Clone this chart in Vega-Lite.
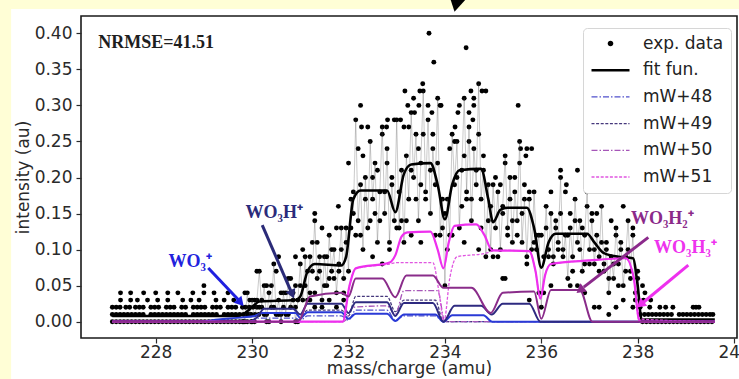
{
 "$schema": "https://vega.github.io/schema/vega-lite/v6.json",
 "width": 656, "height": 322,
 "autosize": {"type": "none"},
 "padding": {"left": 81, "top": 16, "right": 2, "bottom": 41},
 "background": "#fffed6",
 "config": {
  "view": {"stroke": null},
  "font": "DejaVu Sans",
  "axis": {"grid": false, "domain": false, "labelFont": "DejaVu Sans", "labelFontSize": 17, "labelColor": "#2a2a2a", "titleFont": "DejaVu Sans", "titleFontSize": 17, "titleFontWeight": "normal", "titleColor": "#2a2a2a", "tickColor": "#2a2a2a", "tickSize": 5, "tickWidth": 1.2}
 },
 "datasets": {
  "legend": [{"s": "exp. data"}, {"s": "fit fun."}, {"s": "mW+48"}, {"s": "mW+49"}, {"s": "mW+50"}, {"s": "mW+51"}],
  "exp": [
   {"m":227.1,"i":0},{"m":227.18,"i":0},{"m":227.26,"i":0},{"m":227.34,"i":0},{"m":227.42,"i":0},{"m":227.5,"i":0},{"m":227.58,"i":0},{"m":227.66,"i":0},{"m":227.74,"i":0},{"m":227.82,"i":0},{"m":227.9,"i":0},{"m":227.98,"i":0},{"m":228.06,"i":0},{"m":228.14,"i":0},{"m":228.22,"i":0},{"m":228.3,"i":0},{"m":228.38,"i":0},{"m":228.46,"i":0},{"m":228.54,"i":0},{"m":228.62,"i":0},{"m":228.7,"i":0},{"m":228.78,"i":0},{"m":228.86,"i":0},{"m":228.94,"i":0},{"m":229.02,"i":0},{"m":229.1,"i":0},{"m":229.18,"i":0},{"m":229.26,"i":0},{"m":229.34,"i":0},{"m":229.42,"i":0},{"m":229.5,"i":0},{"m":229.58,"i":0},{"m":229.66,"i":0},{"m":229.74,"i":0},{"m":229.82,"i":0},{"m":229.9,"i":0},{"m":229.98,"i":0},
   {"m":227.1,"i":0.01},{"m":227.18,"i":0.01},{"m":227.26,"i":0.01},{"m":227.34,"i":0.01},{"m":227.42,"i":0.01},{"m":227.5,"i":0.01},{"m":227.58,"i":0.01},{"m":227.66,"i":0.01},{"m":227.74,"i":0.01},{"m":227.9,"i":0.01},{"m":227.98,"i":0.01},{"m":228.06,"i":0.01},{"m":228.14,"i":0.01},{"m":228.22,"i":0.01},{"m":228.3,"i":0.01},{"m":228.38,"i":0.01},{"m":228.46,"i":0.01},{"m":228.54,"i":0.01},{"m":228.62,"i":0.01},{"m":228.78,"i":0.01},{"m":228.86,"i":0.01},{"m":228.94,"i":0.01},{"m":229.02,"i":0.01},{"m":229.1,"i":0.01},{"m":229.18,"i":0.01},{"m":229.26,"i":0.01},{"m":229.42,"i":0.01},{"m":229.5,"i":0.01},{"m":229.58,"i":0.01},{"m":229.66,"i":0.01},{"m":229.74,"i":0.01},{"m":229.82,"i":0.01},{"m":229.9,"i":0.01},{"m":229.98,"i":0.01},{"m":230.06,"i":0.01},{"m":230.14,"i":0.01},
   {"m":227.1,"i":0.02},{"m":227.18,"i":0.02},{"m":227.26,"i":0.02},{"m":227.38,"i":0.02},{"m":227.46,"i":0.02},{"m":227.58,"i":0.02},{"m":227.66,"i":0.02},{"m":227.74,"i":0.02},{"m":227.9,"i":0.02},{"m":227.98,"i":0.02},{"m":228.06,"i":0.02},{"m":228.22,"i":0.02},{"m":228.3,"i":0.02},{"m":228.38,"i":0.02},{"m":228.54,"i":0.02},{"m":228.62,"i":0.02},{"m":228.78,"i":0.02},{"m":228.86,"i":0.02},{"m":228.94,"i":0.02},{"m":229.02,"i":0.02},{"m":229.18,"i":0.02},{"m":229.26,"i":0.02},{"m":229.34,"i":0.02},{"m":229.5,"i":0.02},{"m":229.58,"i":0.02},{"m":229.66,"i":0.02},{"m":229.86,"i":0.02},{"m":229.94,"i":0.02},{"m":230.02,"i":0.02},{"m":230.1,"i":0.02},
   {"m":227.27,"i":0.03},{"m":227.48,"i":0.03},{"m":227.62,"i":0.03},{"m":227.83,"i":0.03},{"m":228.04,"i":0.03},{"m":228.25,"i":0.03},{"m":228.56,"i":0.03},{"m":228.73,"i":0.03},{"m":228.9,"i":0.03},{"m":229.25,"i":0.03},{"m":229.42,"i":0.03},{"m":229.62,"i":0.03},
   {"m":227.27,"i":0.04},{"m":227.48,"i":0.04},{"m":227.75,"i":0.04},{"m":228.0,"i":0.04},{"m":228.25,"i":0.04},{"m":228.46,"i":0.04},{"m":228.77,"i":0.04},{"m":229.0,"i":0.04},{"m":229.21,"i":0.04},{"m":229.5,"i":0.04},{"m":229.0,"i":0.05},
   {"m":229.8,"i":0.02,"k":1},{"m":229.8,"i":0},{"m":229.85,"i":0,"k":1},{"m":229.85,"i":0.04},{"m":229.9,"i":0.04,"k":1},{"m":229.9,"i":0.01},{"m":229.95,"i":0.01,"k":1},{"m":229.95,"i":0.03},{"m":230.0,"i":0.03,"k":1},{"m":230.0,"i":0},{"m":230.05,"i":0,"k":1},{"m":230.05,"i":0.03},{"m":230.1,"i":0.03,"k":1},{"m":230.1,"i":0.07},{"m":230.15,"i":0.07,"k":1},{"m":230.15,"i":0.02},{"m":230.2,"i":0.02,"k":1},{"m":230.2,"i":0.03},{"m":230.25,"i":0.05,"k":1},{"m":230.25,"i":0.01},{"m":230.3,"i":0,"k":1},{"m":230.3,"i":0.05},{"m":230.35,"i":0.04,"k":1},{"m":230.35,"i":0},{"m":230.4,"i":0.02,"k":1},{"m":230.4,"i":0.05},{"m":230.45,"i":0.08,"k":1},{"m":230.45,"i":0.02},{"m":230.5,"i":0.01,"k":1},{"m":230.5,"i":0.07},{"m":230.55,"i":0.03,"k":1},{"m":230.55,"i":0.01},{"m":230.6,"i":0,"k":1},{"m":230.6,"i":0.04},{"m":230.65,"i":0.04,"k":1},{"m":230.65,"i":0.02},{"m":230.7,"i":0.01,"k":1},{"m":230.7,"i":0.04},{"m":230.75,"i":0.06,"k":1},{"m":230.75,"i":0.01},{"m":230.8,"i":0.02,"k":1},{"m":230.8,"i":0.06},{"m":230.85,"i":0.04,"k":1},{"m":230.85,"i":0.03},{"m":230.9,"i":0,"k":1},{"m":230.9,"i":0.05},{"m":230.95,"i":0.03,"k":1},{"m":230.95,"i":0},
   {"m":231.0,"i":0.08,"k":1},{"m":231.0,"i":0.05},{"m":231.05,"i":0.03,"k":1},{"m":231.05,"i":0.1},{"m":231.1,"i":0.09,"k":1},{"m":231.1,"i":0.05},{"m":231.15,"i":0.03,"k":1},{"m":231.15,"i":0.07},{"m":231.2,"i":0.09,"k":1},{"m":231.2,"i":0.04},{"m":231.25,"i":0.07,"k":1},{"m":231.25,"i":0.11},{"m":231.3,"i":0.14,"k":1},{"m":231.3,"i":0.04},{"m":231.35,"i":0.06,"k":1},{"m":231.35,"i":0.11},{"m":231.4,"i":0.09,"k":1},{"m":231.4,"i":0.07},{"m":231.45,"i":0.03,"k":1},{"m":231.45,"i":0.13},{"m":231.5,"i":0.09,"k":1},{"m":231.5,"i":0.05},{"m":231.55,"i":0.05,"k":1},{"m":231.55,"i":0.09},{"m":231.6,"i":0.12,"k":1},{"m":231.6,"i":0.06},{"m":231.65,"i":0.07,"k":1},{"m":231.65,"i":0.1},{"m":231.7,"i":0.1,"k":1},{"m":231.7,"i":0.06},{"m":231.75,"i":0.04,"k":1},{"m":231.75,"i":0.13},{"m":231.8,"i":0.08,"k":1},{"m":231.8,"i":0.07},{"m":231.85,"i":0.13,"k":1},{"m":231.85,"i":0.1},{"m":231.9,"i":0.06,"k":1},{"m":231.9,"i":0.04},{"m":231.95,"i":0.13,"k":1},{"m":231.95,"i":0.11},
   {"m":232.0,"i":0.07,"k":1},{"m":232.0,"i":0.22},{"m":232.05,"i":0.17,"k":1},{"m":232.05,"i":0.13},{"m":232.1,"i":0.15,"k":1},{"m":232.1,"i":0.18},{"m":232.15,"i":0.28,"k":1},{"m":232.15,"i":0.12},{"m":232.2,"i":0.14,"k":1},{"m":232.2,"i":0.24},{"m":232.25,"i":0.19,"k":1},{"m":232.25,"i":0.12},{"m":232.3,"i":0.1,"k":1},{"m":232.3,"i":0.23},{"m":232.35,"i":0.2,"k":1},{"m":232.35,"i":0.17},{"m":232.4,"i":0.13,"k":1},{"m":232.4,"i":0.27},{"m":232.45,"i":0.25,"k":1},{"m":232.45,"i":0.14},{"m":232.5,"i":0.17,"k":1},{"m":232.5,"i":0.2},{"m":232.55,"i":0.22,"k":1},{"m":232.55,"i":0.15},{"m":232.6,"i":0.11,"k":1},{"m":232.6,"i":0.21},{"m":232.65,"i":0.18,"k":1},{"m":232.65,"i":0.14},{"m":232.7,"i":0.27,"k":1},{"m":232.7,"i":0.26},{"m":232.75,"i":0.15,"k":1},{"m":232.75,"i":0.18},{"m":232.8,"i":0.24,"k":1},{"m":232.8,"i":0.22},{"m":232.85,"i":0.11,"k":1},{"m":232.85,"i":0.1},{"m":232.9,"i":0.19,"k":1},{"m":232.9,"i":0.2},{"m":232.95,"i":0.14,"k":1},{"m":232.95,"i":0.28},
   {"m":233.0,"i":0.28,"k":1},{"m":233.0,"i":0.13},{"m":233.05,"i":0.13,"k":1},{"m":233.05,"i":0.18},{"m":233.1,"i":0.21,"k":1},{"m":233.1,"i":0.14},{"m":233.15,"i":0.11,"k":1},{"m":233.15,"i":0.27},{"m":233.2,"i":0.23,"k":1},{"m":233.2,"i":0.14},{"m":233.25,"i":0.17,"k":1},{"m":233.25,"i":0.27},{"m":233.3,"i":0.29,"k":1},{"m":233.3,"i":0.21},{"m":233.35,"i":0.2,"k":1},{"m":233.35,"i":0.31},{"m":233.4,"i":0.26,"k":1},{"m":233.4,"i":0.17},{"m":233.45,"i":0.14,"k":1},{"m":233.45,"i":0.24},{"m":233.5,"i":0.22,"k":1},{"m":233.5,"i":0.19},{"m":233.55,"i":0.32,"k":1},{"m":233.55,"i":0.26},{"m":233.6,"i":0.18,"k":1},{"m":233.6,"i":0.17},{"m":233.65,"i":0.28,"k":1},{"m":233.65,"i":0.3},{"m":233.7,"i":0.15,"k":1},{"m":233.7,"i":0.21},{"m":233.75,"i":0.24,"k":1},{"m":233.75,"i":0.26},{"m":233.8,"i":0.19,"k":1},{"m":233.8,"i":0.12},{"m":233.85,"i":0.31,"k":1},{"m":233.85,"i":0.22},{"m":233.9,"i":0.12,"k":1},{"m":233.9,"i":0.3},{"m":233.95,"i":0.17,"k":1},{"m":233.95,"i":0.13},
   {"m":234.0,"i":0.05,"k":1},{"m":234.0,"i":0.15},{"m":234.05,"i":0.17,"k":1},{"m":234.05,"i":0.1},{"m":234.1,"i":0.12,"k":1},{"m":234.1,"i":0.24},{"m":234.15,"i":0.26,"k":1},{"m":234.15,"i":0.12},{"m":234.2,"i":0.19,"k":1},{"m":234.2,"i":0.25},{"m":234.25,"i":0.25,"k":1},{"m":234.25,"i":0.2},{"m":234.3,"i":0.13,"k":1},{"m":234.3,"i":0.3},{"m":234.35,"i":0.21,"k":1},{"m":234.35,"i":0.16},{"m":234.4,"i":0.31,"k":1},{"m":234.4,"i":0.23},{"m":234.45,"i":0.18,"k":1},{"m":234.45,"i":0.17},{"m":234.5,"i":0.27,"k":1},{"m":234.5,"i":0.25},{"m":234.55,"i":0.14,"k":1},{"m":234.55,"i":0.17},{"m":234.6,"i":0.24,"k":1},{"m":234.6,"i":0.3},{"m":234.65,"i":0.19,"k":1},{"m":234.65,"i":0.21},{"m":234.7,"i":0.33,"k":1},{"m":234.7,"i":0.26},{"m":234.75,"i":0.17,"k":1},{"m":234.75,"i":0.13},{"m":234.8,"i":0.21,"k":1},{"m":234.8,"i":0.23},{"m":234.85,"i":0.09,"k":1},{"m":234.85,"i":0.32},{"m":234.9,"i":0.19,"k":1},{"m":234.9,"i":0.14},{"m":234.95,"i":0.1,"k":1},{"m":234.95,"i":0.16},
   {"m":235.0,"i":0.19,"k":1},{"m":235.0,"i":0.09},{"m":235.05,"i":0.13,"k":1},{"m":235.05,"i":0.2},{"m":235.1,"i":0.18,"k":1},{"m":235.1,"i":0.09},{"m":235.15,"i":0.1,"k":1},{"m":235.15,"i":0.19},{"m":235.2,"i":0.16,"k":1},{"m":235.2,"i":0.15},{"m":235.25,"i":0.23,"k":1},{"m":235.25,"i":0.22},{"m":235.3,"i":0.13,"k":1},{"m":235.3,"i":0.12},{"m":235.35,"i":0.2,"k":1},{"m":235.35,"i":0.17},{"m":235.4,"i":0.11,"k":1},{"m":235.4,"i":0.14},{"m":235.45,"i":0.18,"k":1},{"m":235.45,"i":0.2},{"m":235.5,"i":0.14,"k":1},{"m":235.5,"i":0.12},{"m":235.55,"i":0.25,"k":1},{"m":235.55,"i":0.22},{"m":235.6,"i":0.11,"k":1},{"m":235.6,"i":0.15},{"m":235.65,"i":0.17,"k":1},{"m":235.65,"i":0.19},{"m":235.7,"i":0.09,"k":1},{"m":235.7,"i":0.08},{"m":235.75,"i":0.17,"k":1},{"m":235.75,"i":0.18},{"m":235.8,"i":0.1,"k":1},{"m":235.8,"i":0.24},{"m":235.85,"i":0.18,"k":1},{"m":235.85,"i":0.11},{"m":235.9,"i":0.1,"k":1},{"m":235.9,"i":0.12},{"m":235.95,"i":0.12,"k":1},{"m":235.95,"i":0.04},
   {"m":236.0,"i":0.02,"k":1},{"m":236.0,"i":0.12},{"m":236.05,"i":0.09,"k":1},{"m":236.05,"i":0.04},{"m":236.1,"i":0.16,"k":1},{"m":236.1,"i":0.13},{"m":236.15,"i":0.09,"k":1},{"m":236.15,"i":0.1},{"m":236.2,"i":0.15,"k":1},{"m":236.2,"i":0.18},{"m":236.25,"i":0.08,"k":1},{"m":236.25,"i":0.09},{"m":236.3,"i":0.14,"k":1},{"m":236.3,"i":0.13},{"m":236.35,"i":0.11,"k":1},{"m":236.35,"i":0.1},{"m":236.4,"i":0.2,"k":1},{"m":236.4,"i":0.15},{"m":236.45,"i":0.09,"k":1},{"m":236.45,"i":0.1},{"m":236.5,"i":0.12,"k":1},{"m":236.5,"i":0.18},{"m":236.55,"i":0.06,"k":1},{"m":236.55,"i":0.12},{"m":236.6,"i":0.13,"k":1},{"m":236.6,"i":0.15},{"m":236.65,"i":0.09,"k":1},{"m":236.65,"i":0.07},{"m":236.7,"i":0.17,"k":1},{"m":236.7,"i":0.14},{"m":236.75,"i":0.11,"k":1},{"m":236.75,"i":0.21},{"m":236.8,"i":0.14,"k":1},{"m":236.8,"i":0.1},{"m":236.85,"i":0.07,"k":1},{"m":236.85,"i":0.13},{"m":236.9,"i":0.12,"k":1},{"m":236.9,"i":0.08},{"m":236.95,"i":0.18,"k":1},{"m":236.95,"i":0.16},
   {"m":237.0,"i":0.1,"k":1},{"m":237.0,"i":0.08},{"m":237.05,"i":0.14,"k":1},{"m":237.05,"i":0.15},{"m":237.1,"i":0.08,"k":1},{"m":237.1,"i":0.1},{"m":237.15,"i":0.12,"k":1},{"m":237.15,"i":0.15},{"m":237.2,"i":0.09,"k":1},{"m":237.2,"i":0.07},{"m":237.25,"i":0.16,"k":1},{"m":237.25,"i":0.11},{"m":237.3,"i":0.07,"k":1},{"m":237.3,"i":0.08},{"m":237.35,"i":0.1,"k":1},{"m":237.35,"i":0.11},{"m":237.4,"i":0.04,"k":1},{"m":237.4,"i":0.06},{"m":237.45,"i":0.09,"k":1},{"m":237.45,"i":0.14},{"m":237.5,"i":0.06,"k":1},{"m":237.5,"i":0.08},{"m":237.55,"i":0.13,"k":1},{"m":237.55,"i":0.12},{"m":237.6,"i":0.08,"k":1},{"m":237.6,"i":0.05},{"m":237.65,"i":0.11,"k":1},{"m":237.65,"i":0.1},{"m":237.7,"i":0.05,"k":1},{"m":237.7,"i":0.16},{"m":237.75,"i":0.09,"k":1},{"m":237.75,"i":0.07},{"m":237.8,"i":0.14,"k":1},{"m":237.8,"i":0.1},{"m":237.85,"i":0.07,"k":1},{"m":237.85,"i":0.06},{"m":237.9,"i":0.12,"k":1},{"m":237.9,"i":0.13},{"m":237.95,"i":0.03,"k":1},{"m":237.95,"i":0.04},{"m":238.0,"i":0.06,"k":1},{"m":238.0,"i":0.07},{"m":238.05,"i":0.01,"k":1},{"m":238.05,"i":0.02},
   {"m":233.67,"i":0.4},{"m":234.44,"i":0.38},{"m":233.77,"i":0.36},{"m":233.54,"i":0.33},{"m":233.17,"i":0.32},{"m":233.48,"i":0.32},{"m":234.54,"i":0.32},{"m":234.77,"i":0.32},{"m":232.25,"i":0.3},{"m":234.6,"i":0.31},{"m":233.23,"i":0.3},{"m":233.46,"i":0.3},{"m":233.92,"i":0.3},{"m":232.81,"i":0.28},{"m":234.27,"i":0.29},{"m":234.5,"i":0.29},{"m":232.27,"i":0.27},{"m":232.79,"i":0.27},{"m":233.08,"i":0.28},{"m":234.21,"i":0.27},{"m":235.52,"i":0.3},{"m":235.57,"i":0.24},{"m":235.7,"i":0.24},{"m":235.68,"i":0.23},{"m":236.4,"i":0.21},{"m":236.52,"i":0.19},{"m":233.37,"i":0.29},{"m":233.73,"i":0.29},{"m":234.58,"i":0.28},{"m":230.55,"i":0.09},{"m":230.9,"i":0.09},{"m":231.3,"i":0.15},{"m":231.79,"i":0.16},
   {"m":231.2,"i":0.03},{"m":231.3,"i":0.02},{"m":231.45,"i":0.02},{"m":231.6,"i":0.03},{"m":231.75,"i":0.02},{"m":231.9,"i":0.03},{"m":230.3,"i":0.01},{"m":230.6,"i":0.01},{"m":230.9,"i":0.02},{"m":235.2,"i":0.06},{"m":235.25,"i":0.06},{"m":235.75,"i":0.03},{"m":236.2,"i":0.05},{"m":236.6,"i":0.05},{"m":236.75,"i":0.05},{"m":236.9,"i":0.04},{"m":237.1,"i":0.02},{"m":237.2,"i":0.02},{"m":237.4,"i":0.01},{"m":237.55,"i":0.02},{"m":237.7,"i":0.03},{"m":237.9,"i":0.02},{"m":238.1,"i":0.05},{"m":238.15,"i":0.04},{"m":232.5,"i":0.09},{"m":232.7,"i":0.08},{"m":233.5,"i":0.11},{"m":234.4,"i":0.11},{"m":233.3,"i":0.12},{"m":234.7,"i":0.1},
   {"m":238.1,"i":0},{"m":238.18,"i":0},{"m":238.26,"i":0},{"m":238.34,"i":0},{"m":238.42,"i":0},{"m":238.5,"i":0},{"m":238.58,"i":0},{"m":238.66,"i":0},{"m":238.74,"i":0},{"m":238.82,"i":0},{"m":238.9,"i":0},{"m":238.98,"i":0},{"m":239.06,"i":0},{"m":239.14,"i":0},{"m":239.22,"i":0},{"m":239.3,"i":0},{"m":239.38,"i":0},{"m":239.46,"i":0},{"m":239.54,"i":0},
   {"m":238.14,"i":0.01},{"m":238.22,"i":0.01},{"m":238.3,"i":0.01},{"m":238.38,"i":0.01},{"m":238.46,"i":0.01},{"m":238.54,"i":0.01},{"m":238.62,"i":0.01},{"m":238.7,"i":0.01},{"m":238.86,"i":0.01},{"m":238.94,"i":0.01},{"m":239.02,"i":0.01},{"m":239.1,"i":0.01},{"m":239.18,"i":0.01},{"m":239.26,"i":0.01},{"m":239.34,"i":0.01},{"m":239.42,"i":0.01},{"m":239.5,"i":0.01},{"m":239.56,"i":0.01},
   {"m":238.25,"i":0.02},{"m":238.46,"i":0.02},{"m":238.58,"i":0.02},{"m":238.73,"i":0.02},{"m":239.15,"i":0.02},{"m":239.21,"i":0.02},{"m":239.27,"i":0.02},{"m":238.27,"i":0.03},{"m":238.12,"i":0.03}
  ],
  "curves": [
   {"s":"fit fun.","m":227.1,"i":0.008},{"s":"fit fun.","m":229.7,"i":0.008},{"s":"fit fun.","m":229.85,"i":0.012},{"s":"fit fun.","m":230.0,"i":0.02},{"s":"fit fun.","m":230.15,"i":0.028},{"s":"fit fun.","m":230.9,"i":0.03},{"s":"fit fun.","m":231.0,"i":0.035},{"s":"fit fun.","m":231.15,"i":0.07},{"s":"fit fun.","m":231.3,"i":0.08},{"s":"fit fun.","m":231.85,"i":0.078},{"s":"fit fun.","m":231.95,"i":0.09},{"s":"fit fun.","m":232.1,"i":0.17},{"s":"fit fun.","m":232.25,"i":0.182},{"s":"fit fun.","m":232.8,"i":0.182},{"s":"fit fun.","m":232.97,"i":0.152},{"s":"fit fun.","m":233.15,"i":0.205},{"s":"fit fun.","m":233.3,"i":0.218},{"s":"fit fun.","m":233.7,"i":0.22},{"s":"fit fun.","m":233.85,"i":0.19},{"s":"fit fun.","m":234.0,"i":0.142},{"s":"fit fun.","m":234.15,"i":0.19},{"s":"fit fun.","m":234.3,"i":0.21},{"s":"fit fun.","m":234.75,"i":0.212},{"s":"fit fun.","m":234.9,"i":0.17},{"s":"fit fun.","m":235.0,"i":0.138},{"s":"fit fun.","m":235.15,"i":0.155},{"s":"fit fun.","m":235.3,"i":0.158},{"s":"fit fun.","m":235.7,"i":0.158},{"s":"fit fun.","m":235.85,"i":0.13},{"s":"fit fun.","m":236.0,"i":0.075},{"s":"fit fun.","m":236.15,"i":0.11},{"s":"fit fun.","m":236.3,"i":0.122},{"s":"fit fun.","m":236.95,"i":0.122},{"s":"fit fun.","m":237.1,"i":0.11},{"s":"fit fun.","m":237.3,"i":0.095},{"s":"fit fun.","m":237.6,"i":0.09},{"s":"fit fun.","m":237.9,"i":0.088},{"s":"fit fun.","m":238.0,"i":0.05},{"s":"fit fun.","m":238.08,"i":0.003},{"s":"fit fun.","m":239.6,"i":0.003},
   {"s":"c48","m":227.1,"i":0},{"s":"c48","m":228.9,"i":0},{"s":"c48","m":229.3,"i":0.003},{"s":"c48","m":229.8,"i":0.006},{"s":"c48","m":230.05,"i":0.008},{"s":"c48","m":230.2,"i":0.012},{"s":"c48","m":230.9,"i":0.012},{"s":"c48","m":231.0,"i":0.005},{"s":"c48","m":231.15,"i":0.013},{"s":"c48","m":231.85,"i":0.013},{"s":"c48","m":232.0,"i":0.004},{"s":"c48","m":232.15,"i":0.011},{"s":"c48","m":232.8,"i":0.011},{"s":"c48","m":232.97,"i":0.001},{"s":"c48","m":233.15,"i":0.01},{"s":"c48","m":233.8,"i":0.01},{"s":"c48","m":233.97,"i":0},{"s":"c48","m":234.15,"i":0.009},{"s":"c48","m":234.8,"i":0.009},{"s":"c48","m":234.98,"i":0},{"s":"c48","m":239.6,"i":0},
   {"s":"c49","m":227.1,"i":0},{"s":"c49","m":229.95,"i":0},{"s":"c49","m":230.1,"i":0.006},{"s":"c49","m":230.25,"i":0.018},{"s":"c49","m":230.85,"i":0.018},{"s":"c49","m":231.0,"i":0.01},{"s":"c49","m":231.15,"i":0.025},{"s":"c49","m":231.85,"i":0.025},{"s":"c49","m":232.0,"i":0.012},{"s":"c49","m":232.15,"i":0.027},{"s":"c49","m":232.8,"i":0.027},{"s":"c49","m":232.97,"i":0.008},{"s":"c49","m":233.15,"i":0.026},{"s":"c49","m":233.75,"i":0.026},{"s":"c49","m":233.97,"i":0},{"s":"c49","m":234.2,"i":0.022},{"s":"c49","m":234.75,"i":0.022},{"s":"c49","m":234.97,"i":0.01},{"s":"c49","m":235.2,"i":0.025},{"s":"c49","m":235.75,"i":0.025},{"s":"c49","m":235.98,"i":0},{"s":"c49","m":239.6,"i":0},
   {"s":"c50","m":227.1,"i":0},{"s":"c50","m":230.9,"i":0},{"s":"c50","m":231.0,"i":0.004},{"s":"c50","m":231.2,"i":0.035},{"s":"c50","m":231.85,"i":0.04},{"s":"c50","m":232.0,"i":0.035},{"s":"c50","m":232.15,"i":0.06},{"s":"c50","m":232.7,"i":0.06},{"s":"c50","m":232.97,"i":0.034},{"s":"c50","m":233.2,"i":0.064},{"s":"c50","m":233.75,"i":0.064},{"s":"c50","m":233.97,"i":0.047},{"s":"c50","m":234.55,"i":0.047},{"s":"c50","m":234.95,"i":0.012},{"s":"c50","m":235.2,"i":0.04},{"s":"c50","m":235.85,"i":0.042},{"s":"c50","m":236.0,"i":0.004},{"s":"c50","m":236.2,"i":0.044},{"s":"c50","m":236.8,"i":0.044},{"s":"c50","m":237.06,"i":0},{"s":"c50","m":239.6,"i":0},
   {"s":"c51","m":227.1,"i":0},{"s":"c51","m":231.88,"i":0},{"s":"c51","m":232.02,"i":0.05},{"s":"c51","m":232.15,"i":0.074},{"s":"c51","m":232.85,"i":0.082},{"s":"c51","m":232.97,"i":0.092},{"s":"c51","m":233.1,"i":0.118},{"s":"c51","m":233.22,"i":0.124},{"s":"c51","m":233.7,"i":0.125},{"s":"c51","m":233.85,"i":0.1},{"s":"c51","m":233.97,"i":0.074},{"s":"c51","m":234.08,"i":0.11},{"s":"c51","m":234.2,"i":0.133},{"s":"c51","m":234.65,"i":0.135},{"s":"c51","m":234.82,"i":0.12},{"s":"c51","m":234.98,"i":0.099},{"s":"c51","m":235.75,"i":0.098},{"s":"c51","m":235.88,"i":0.07},{"s":"c51","m":235.98,"i":0.032},{"s":"c51","m":236.08,"i":0.065},{"s":"c51","m":236.2,"i":0.08},{"s":"c51","m":237.0,"i":0.085},{"s":"c51","m":237.75,"i":0.088},{"s":"c51","m":237.92,"i":0.06},{"s":"c51","m":238.02,"i":0.004},{"s":"c51","m":238.06,"i":0},{"s":"c51","m":239.6,"i":0},
   {"s":"mW+48","m":227.1,"i":0},{"s":"mW+48","m":229.95,"i":0},{"s":"mW+48","m":230.1,"i":0.005},{"s":"mW+48","m":230.9,"i":0.005},{"s":"mW+48","m":231.0,"i":0.002},{"s":"mW+48","m":231.15,"i":0.008},{"s":"mW+48","m":231.85,"i":0.008},{"s":"mW+48","m":232.0,"i":0.002},{"s":"mW+48","m":232.15,"i":0.016},{"s":"mW+48","m":232.8,"i":0.016},{"s":"mW+48","m":232.97,"i":0.002},{"s":"mW+48","m":233.15,"i":0.008},{"s":"mW+48","m":233.8,"i":0.008},{"s":"mW+48","m":233.97,"i":0},{"s":"mW+48","m":239.6,"i":0},
   {"s":"mW+49","m":227.1,"i":0},{"s":"mW+49","m":230.95,"i":0},{"s":"mW+49","m":231.15,"i":0.016},{"s":"mW+49","m":231.85,"i":0.016},{"s":"mW+49","m":232.0,"i":0.008},{"s":"mW+49","m":232.15,"i":0.035},{"s":"mW+49","m":232.8,"i":0.035},{"s":"mW+49","m":232.97,"i":0.014},{"s":"mW+49","m":233.15,"i":0.03},{"s":"mW+49","m":233.8,"i":0.03},{"s":"mW+49","m":233.97,"i":0},{"s":"mW+49","m":239.6,"i":0},
   {"s":"mW+50","m":227.1,"i":0},{"s":"mW+50","m":231.9,"i":0},{"s":"mW+50","m":232.1,"i":0.02},{"s":"mW+50","m":232.8,"i":0.022},{"s":"mW+50","m":232.97,"i":0.01},{"s":"mW+50","m":233.15,"i":0.043},{"s":"mW+50","m":233.85,"i":0.043},{"s":"mW+50","m":234.0,"i":0},{"s":"mW+50","m":239.6,"i":0},
   {"s":"mW+51","m":227.1,"i":0},{"s":"mW+51","m":231.88,"i":0},{"s":"mW+51","m":232.02,"i":0.05},{"s":"mW+51","m":232.15,"i":0.074},{"s":"mW+51","m":232.85,"i":0.08},{"s":"mW+51","m":233.0,"i":0.082},{"s":"mW+51","m":233.75,"i":0.082},{"s":"mW+51","m":233.88,"i":0.04},{"s":"mW+51","m":233.98,"i":0},{"s":"mW+51","m":234.1,"i":0.06},{"s":"mW+51","m":234.25,"i":0.09},{"s":"mW+51","m":234.85,"i":0.095},{"s":"mW+51","m":235.05,"i":0.099},{"s":"mW+51","m":235.75,"i":0.098},{"s":"mW+51","m":235.88,"i":0.07},{"s":"mW+51","m":235.98,"i":0.032},{"s":"mW+51","m":236.08,"i":0.065},{"s":"mW+51","m":236.2,"i":0.08},{"s":"mW+51","m":237.0,"i":0.085},{"s":"mW+51","m":237.75,"i":0.088},{"s":"mW+51","m":237.92,"i":0.06},{"s":"mW+51","m":238.02,"i":0.004},{"s":"mW+51","m":239.6,"i":0}
  ]
 },
 "layer": [
  {"data": {"values": [{}]}, "mark": {"type": "rect", "color": "#ffffff", "opacity": 1},
   "encoding": {"x": {"datum": 225.0, "type": "quantitative", "scale": {"domain": [226.45, 240.06], "nice": false, "zero": false}}, "x2": {"datum": 240.6}, "y": {"datum": -0.1, "type": "quantitative", "scale": {"domain": [-0.0226, 0.424], "nice": false, "zero": false}}, "y2": {"datum": 0.4337}}},
  {"data": {"values": [{}]}, "mark": {"type": "point", "shape": "triangle-down", "filled": true, "color": "#000000", "size": 260, "angle": 12, "opacity": 1},
   "encoding": {"x": {"datum": 234.23, "type": "quantitative"}, "y": {"datum": 0.4393, "type": "quantitative"}}},
  {"data": {"name": "exp"},
   "mark": {"type": "point", "filled": true, "size": 24, "opacity": 1, "color": "#000000"},
   "encoding": {
    "x": {"field": "m", "type": "quantitative", "scale": {"domain": [226.45, 240.06], "nice": false, "zero": false},
      "axis": {"values": [228, 230, 232, 234, 236, 238, 240], "format": "d", "title": "mass/charge (amu)", "labelPadding": 1, "titlePadding": 0, "zindex": 2}},
    "y": {"field": "i", "type": "quantitative", "scale": {"domain": [-0.0226, 0.424], "nice": false, "zero": false},
      "axis": {"values": [0, 0.05, 0.1, 0.15, 0.2, 0.25, 0.3, 0.35, 0.4], "format": ".2f", "title": "intensity (au)", "labelPadding": 4, "titlePadding": 2, "zindex": 2}}
   }},
  {"data": {"name": "exp"}, "transform": [{"filter": "datum.k === 1"}],
   "mark": {"type": "line", "color": "#3a3a3a", "strokeWidth": 0.6, "opacity": 0.45},
   "encoding": {"x": {"field": "m", "type": "quantitative"}, "y": {"field": "i", "type": "quantitative"}}},
  {"data": {"name": "curves"}, "transform": [{"filter": "datum.s === 'fit fun.'"}],
   "mark": {"type": "line", "interpolate": "monotone", "strokeWidth": 2.6, "color": "#000000"},
   "encoding": {"x": {"field": "m", "type": "quantitative"}, "y": {"field": "i", "type": "quantitative"}}},
  {"data": {"name": "curves"}, "transform": [{"filter": "datum.s === 'mW+48'"}],
   "mark": {"type": "line", "interpolate": "monotone", "strokeWidth": 1.3, "color": "#5050cc", "strokeDash": [6, 2, 1.5, 2]},
   "encoding": {"x": {"field": "m", "type": "quantitative"}, "y": {"field": "i", "type": "quantitative"}}},
  {"data": {"name": "curves"}, "transform": [{"filter": "datum.s === 'mW+49'"}],
   "mark": {"type": "line", "interpolate": "monotone", "strokeWidth": 1.3, "color": "#46387c", "strokeDash": [3, 1.6]},
   "encoding": {"x": {"field": "m", "type": "quantitative"}, "y": {"field": "i", "type": "quantitative"}}},
  {"data": {"name": "curves"}, "transform": [{"filter": "datum.s === 'mW+50'"}],
   "mark": {"type": "line", "interpolate": "monotone", "strokeWidth": 1.3, "color": "#a656b8", "strokeDash": [6, 2, 1.5, 2]},
   "encoding": {"x": {"field": "m", "type": "quantitative"}, "y": {"field": "i", "type": "quantitative"}}},
  {"data": {"name": "curves"}, "transform": [{"filter": "datum.s === 'mW+51'"}],
   "mark": {"type": "line", "interpolate": "monotone", "strokeWidth": 1.3, "color": "#e056e0", "strokeDash": [3, 1.6]},
   "encoding": {"x": {"field": "m", "type": "quantitative"}, "y": {"field": "i", "type": "quantitative"}}},
  {"data": {"name": "curves"}, "transform": [{"filter": "datum.s === 'c48'"}],
   "mark": {"type": "line", "interpolate": "monotone", "strokeWidth": 2, "color": "#2a3ad6"},
   "encoding": {"x": {"field": "m", "type": "quantitative"}, "y": {"field": "i", "type": "quantitative"}}},
  {"data": {"name": "curves"}, "transform": [{"filter": "datum.s === 'c49'"}],
   "mark": {"type": "line", "interpolate": "monotone", "strokeWidth": 2, "color": "#2e2a80"},
   "encoding": {"x": {"field": "m", "type": "quantitative"}, "y": {"field": "i", "type": "quantitative"}}},
  {"data": {"name": "curves"}, "transform": [{"filter": "datum.s === 'c51'"}],
   "mark": {"type": "line", "interpolate": "monotone", "strokeWidth": 2.2, "color": "#ee30ee"},
   "encoding": {"x": {"field": "m", "type": "quantitative"}, "y": {"field": "i", "type": "quantitative"}}},
  {"data": {"name": "curves"}, "transform": [{"filter": "datum.s === 'c50'"}],
   "mark": {"type": "line", "interpolate": "monotone", "strokeWidth": 2, "color": "#8a2c8a"},
   "encoding": {"x": {"field": "m", "type": "quantitative"}, "y": {"field": "i", "type": "quantitative"}}},
  {"data": {"values": [{}]}, "mark": {"type": "rect", "filled": false, "stroke": "#1a1a1a", "strokeWidth": 1.6},
   "encoding": {"x": {"datum": 226.45, "type": "quantitative"}, "x2": {"datum": 240.06}, "y": {"datum": -0.0226, "type": "quantitative"}, "y2": {"datum": 0.424}}},
  {"data": {"name": "legend"},
   "mark": {"type": "point", "opacity": 0, "filled": false},
   "encoding": {
    "stroke": {"field": "s", "type": "nominal",
      "scale": {"domain": ["exp. data", "fit fun.", "mW+48", "mW+49", "mW+50", "mW+51"], "range": ["#000000", "#000000", "#5050cc", "#46387c", "#a656b8", "#e056e0"]},
      "legend": {"title": null, "orient": "none", "legendX": 502, "legendY": 12, "fillColor": "#ffffff", "strokeColor": "#d6d6d6", "cornerRadius": 4, "padding": 7, "rowPadding": 8.7, "clipHeight": 17, "labelFont": "DejaVu Sans", "labelFontSize": 17, "labelColor": "#222222", "labelOffset": 12, "symbolOpacity": 1, "symbolFillColor": "#000000"}},
    "shape": {"field": "s", "type": "nominal",
      "scale": {"domain": ["exp. data", "fit fun.", "mW+48", "mW+49", "mW+50", "mW+51"], "range": ["circle", "stroke", "stroke", "stroke", "stroke", "stroke"]},
      "legend": {"title": null}},
    "strokeDash": {"field": "s", "type": "nominal",
      "scale": {"domain": ["exp. data", "fit fun.", "mW+48", "mW+49", "mW+50", "mW+51"], "range": [[1, 0], [1, 0], [6, 2, 1.5, 2], [3, 1.6], [6, 2, 1.5, 2], [3, 1.6]]},
      "legend": {"title": null}},
    "size": {"field": "s", "type": "nominal",
      "scale": {"type": "ordinal", "domain": ["exp. data", "fit fun.", "mW+48", "mW+49", "mW+50", "mW+51"], "range": [8, 1444, 1444, 1444, 1444, 1444]},
      "legend": {"title": null}},
    "strokeWidth": {"field": "s", "type": "nominal",
      "scale": {"type": "ordinal", "domain": ["exp. data", "fit fun.", "mW+48", "mW+49", "mW+50", "mW+51"], "range": [2.8, 2.4, 1.3, 1.3, 1.3, 1.3]},
      "legend": {"title": null}}
   }},
  {"data": {"values": [{}]}, "mark": {"type": "text", "text": "NRMSE=41.51", "font": "Liberation Serif", "fontWeight": "bold", "fontSize": 18, "align": "left", "baseline": "middle", "color": "#1e1e1e"},
   "encoding": {"x": {"datum": 226.81, "type": "quantitative"}, "y": {"datum": 0.386, "type": "quantitative"}}},
  {"data": {"values": [{}]}, "mark": {"type": "rule", "strokeWidth": 3, "color": "#2020e0"},
   "encoding": {"x": {"datum": 229.09, "type": "quantitative"}, "y": {"datum": 0.0745, "type": "quantitative"}, "x2": {"datum": 229.72}, "y2": {"datum": 0.03}}},
  {"data": {"values": [{}]}, "mark": {"type": "point", "shape": "triangle", "filled": true, "size": 110, "angle": 137.6, "color": "#2020e0", "opacity": 1},
   "encoding": {"x": {"datum": 229.74, "type": "quantitative"}, "y": {"datum": 0.028, "type": "quantitative"}}},
  {"data": {"values": [{}]}, "mark": {"type": "text", "text": "WO₃⁺", "font": "Liberation Serif", "fontWeight": "bold", "fontSize": 18, "align": "center", "baseline": "middle", "color": "#2222dd"},
   "encoding": {"x": {"datum": 228.716, "type": "quantitative"}, "y": {"datum": 0.083, "type": "quantitative"}}},
  {"data": {"values": [{}]}, "mark": {"type": "rule", "strokeWidth": 3, "color": "#2b2b78"},
   "encoding": {"x": {"datum": 230.21, "type": "quantitative"}, "y": {"datum": 0.134, "type": "quantitative"}, "x2": {"datum": 230.8}, "y2": {"datum": 0.043}}},
  {"data": {"values": [{}]}, "mark": {"type": "point", "shape": "triangle", "filled": true, "size": 110, "angle": 156.8, "color": "#2b2b78", "opacity": 1},
   "encoding": {"x": {"datum": 230.82, "type": "quantitative"}, "y": {"datum": 0.04, "type": "quantitative"}}},
  {"data": {"values": [{}]}, "mark": {"type": "text", "text": "WO₃H⁺", "font": "Liberation Serif", "fontWeight": "bold", "fontSize": 18, "align": "center", "baseline": "middle", "color": "#2b2b7b"},
   "encoding": {"x": {"datum": 230.46, "type": "quantitative"}, "y": {"datum": 0.151, "type": "quantitative"}}},
  {"data": {"values": [{}]}, "mark": {"type": "rule", "strokeWidth": 3, "color": "#8b2a8b"},
   "encoding": {"x": {"datum": 238.22, "type": "quantitative"}, "y": {"datum": 0.117, "type": "quantitative"}, "x2": {"datum": 236.88}, "y2": {"datum": 0.048}}},
  {"data": {"values": [{}]}, "mark": {"type": "point", "shape": "triangle", "filled": true, "size": 110, "angle": 232.1, "color": "#8b2a8b", "opacity": 1},
   "encoding": {"x": {"datum": 236.83, "type": "quantitative"}, "y": {"datum": 0.045, "type": "quantitative"}}},
  {"data": {"values": [{}]}, "mark": {"type": "text", "text": "WO₃H₂⁺", "font": "Liberation Serif", "fontWeight": "bold", "fontSize": 18, "align": "center", "baseline": "middle", "color": "#8b2a8a"},
   "encoding": {"x": {"datum": 238.51, "type": "quantitative"}, "y": {"datum": 0.142, "type": "quantitative"}}},
  {"data": {"values": [{}]}, "mark": {"type": "rule", "strokeWidth": 3, "color": "#ee30ee"},
   "encoding": {"x": {"datum": 239.05, "type": "quantitative"}, "y": {"datum": 0.0786, "type": "quantitative"}, "x2": {"datum": 238.12}, "y2": {"datum": 0.027}}},
  {"data": {"values": [{}]}, "mark": {"type": "point", "shape": "triangle", "filled": true, "size": 110, "angle": 230.2, "color": "#ee30ee", "opacity": 1},
   "encoding": {"x": {"datum": 238.08, "type": "quantitative"}, "y": {"datum": 0.025, "type": "quantitative"}}},
  {"data": {"values": [{}]}, "mark": {"type": "text", "text": "WO₃H₃⁺", "font": "Liberation Serif", "fontWeight": "bold", "fontSize": 18, "align": "center", "baseline": "middle", "color": "#ee33ee"},
   "encoding": {"x": {"datum": 238.99, "type": "quantitative"}, "y": {"datum": 0.102, "type": "quantitative"}}}
 ]
}
